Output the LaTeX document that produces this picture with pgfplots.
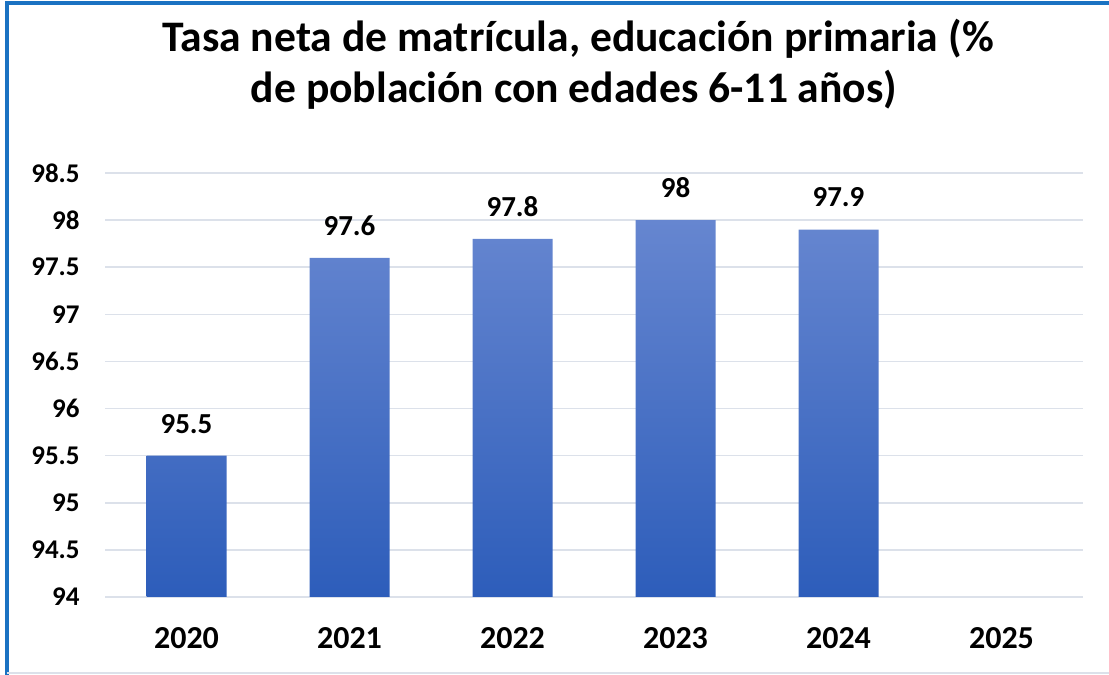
\documentclass[border=0pt]{standalone}
\usepackage{pgfplots}
\pgfplotsset{compat=1.18}
\usepackage{fontspec}
\setmainfont{Carlito}

\definecolor{barTop}{HTML}{6686D0}
\definecolor{barBot}{HTML}{2D5DBA}
\definecolor{gridc}{HTML}{DCE1EA}
\definecolor{frame}{HTML}{1A72C2}

\begin{document}
\begin{tikzpicture}
\begin{axis}[
  name=ax,
  scale only axis,
  width=489pt, height=212pt,
  xmin=-0.5, xmax=5.5,
  ymin=94, ymax=98.5,
  xtick={0,...,5},
  xticklabels={2020,2021,2022,2023,2024,2025},
  ytick={94,94.5,...,98.5},
  axis line style={draw=none},
  tick style={draw=none},
  ymajorgrids,
  grid style={color=gridc, line width=0.8pt},
  /pgf/number format/assume math mode=true,
  yticklabel style={font=\bfseries\fontsize{13.5}{16}\selectfont, inner sep=0pt, xshift=-12.5pt},
  xticklabel style={font=\bfseries\fontsize{16}{19}\selectfont, inner sep=0pt, anchor=north, yshift=-15pt},
  bar width=40pt,
  nodes near coords,
  every node near coord/.append style={font=\bfseries\fontsize{14.5}{17}\selectfont, inner sep=0pt, anchor=south, yshift=11pt},
  clip=false,
]
\addplot[ybar, draw=none, top color=barTop, bottom color=barBot]
  coordinates{(0,95.5)(1,97.6)(2,97.8)(3,98)(4,97.9)};
\end{axis}
\node[font=\bfseries\fontsize{21.8}{26}\selectfont, anchor=base] at ([xshift=-8pt, yshift=60.5pt]ax.north) {Tasa neta de matrícula, educación primaria (\%};
\node[font=\bfseries\fontsize{21.8}{26}\selectfont, anchor=base] at ([xshift=-10pt, yshift=35pt]ax.north) {de población con edades 6-11 años)};
\pgfresetboundingbox
\path[use as bounding box] ([xshift=-52.5pt, yshift=-39pt]ax.south west) rectangle ([xshift=13pt, yshift=86.5pt]ax.north east);
\draw[frame, line width=1.6pt] ([xshift=-49pt, yshift=-39pt]ax.south west) -- ([xshift=-49pt, yshift=85pt]ax.north west) -- ([xshift=13pt, yshift=85pt]ax.north east);
\draw[gridc, line width=0.6pt] ([xshift=-49pt, yshift=-38pt]ax.south west) -- ([xshift=13pt, yshift=-38pt]ax.south east);
\end{tikzpicture}
\end{document}
